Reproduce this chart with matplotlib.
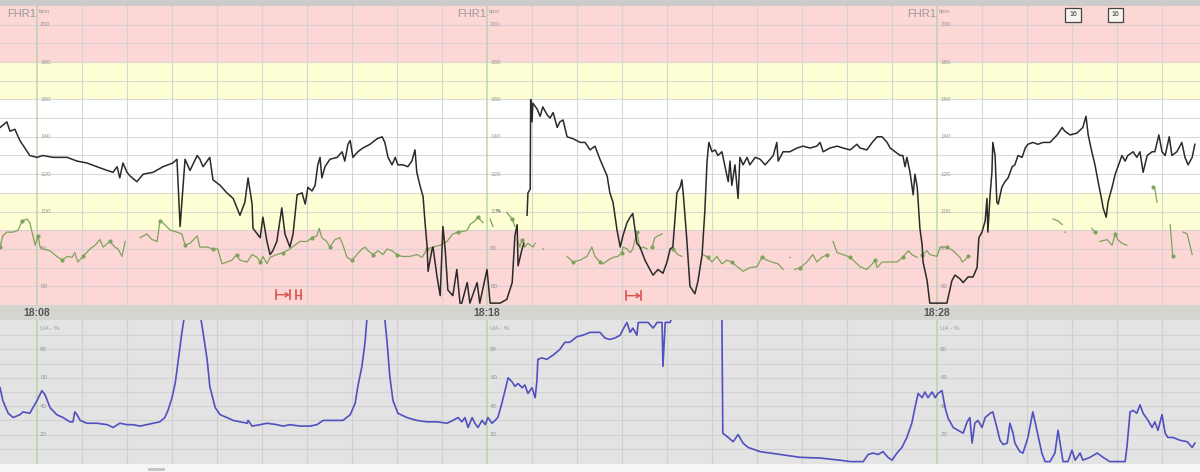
import numpy as np
import matplotlib
matplotlib.use("Agg")
import matplotlib.pyplot as plt
from matplotlib.patches import Rectangle

plt.rcParams['font.family'] = ['Liberation Sans', 'DejaVu Sans']

# ---------------- data (time in minutes after 18:00) ----------------
NA = float('nan')
time_labels = ["18:08", "18:18", "18:28"]
major_minutes = [8, 18, 28]
fhr_ticks = [200, 180, 160, 140, 120, 100, 80, 60]
ua_ticks = [80, 60, 40, 20]
event_boxes = [31.02, 31.96]
event_label = "16"

fhr_trace = [
    (7.18, 145), (7.33, 148), (7.40, 143), (7.51, 144), (7.62, 138), (7.73, 134), (7.84, 130),
    (8.00, 129), (8.13, 130), (8.36, 129), (8.67, 129), (8.89, 127), (9.11, 126), (9.33, 124),
    (9.56, 122), (9.69, 121), (9.78, 124), (9.84, 118), (9.91, 126), (10.00, 121), (10.07, 119),
    (10.22, 116), (10.36, 120), (10.58, 121), (10.80, 124), (11.02, 126), (11.11, 128), (11.18, 92),
    (11.29, 128), (11.40, 122), (11.56, 130), (11.62, 128), (11.69, 124), (11.84, 129), (11.91, 117),
    (12.07, 114), (12.22, 110), (12.36, 107), (12.51, 98), (12.62, 105), (12.69, 118), (12.78, 104),
    (12.80, 91), (12.96, 86), (13.02, 97), (13.11, 84), (13.18, 77), (13.24, 79), (13.33, 84),
    (13.44, 102), (13.51, 88), (13.62, 81), (13.69, 88), (13.78, 109), (13.89, 110), (13.96, 104),
    (14.02, 113), (14.11, 111), (14.18, 114), (14.24, 125), (14.29, 129), (14.33, 118), (14.40, 124),
    (14.51, 128), (14.67, 129), (14.78, 132), (14.84, 127), (14.91, 136), (14.96, 138), (15.02, 129),
    (15.13, 132), (15.24, 134), (15.40, 136), (15.56, 139), (15.67, 140), (15.73, 137), (15.80, 129),
    (15.89, 125), (15.96, 129), (16.02, 125), (16.13, 125), (16.24, 124), (16.33, 127), (16.40, 133),
    (16.44, 121), (16.51, 114), (16.58, 108), (16.62, 95), (16.67, 81), (16.69, 68), (16.78, 80),
    (16.80, 81), (16.89, 65), (16.96, 55), (17.02, 92), (17.07, 80), (17.13, 58), (17.24, 55),
    (17.33, 69), (17.40, 51), (17.44, 51), (17.56, 62), (17.62, 51), (17.78, 62), (17.84, 51),
    (18.00, 69), (18.07, 51), (18.29, 51), (18.44, 53), (18.56, 62), (18.62, 87), (18.67, 93),
    (18.69, 71), (18.78, 80), (18.82, 83), (18.85, NA),
    (18.89, 98), (18.91, 110), (18.96, 112), (18.97, 160), (19.00, 148), (19.02, 158), (19.11, 155),
    (19.18, 151), (19.24, 156), (19.33, 152), (19.40, 150), (19.47, 153), (19.56, 145), (19.62, 148),
    (19.69, 149), (19.78, 140), (19.91, 139), (20.07, 137), (20.18, 137), (20.29, 133), (20.40, 135),
    (20.51, 128), (20.67, 119), (20.73, 110), (20.80, 105), (20.89, 90), (20.96, 81), (21.02, 87),
    (21.11, 94), (21.18, 97), (21.24, 99), (21.29, 90), (21.33, 83), (21.40, 81), (21.51, 74),
    (21.62, 69), (21.69, 66), (21.80, 69), (21.91, 67), (22.00, 73), (22.07, 80), (22.13, 81),
    (22.22, 110), (22.29, 113), (22.33, 117), (22.36, 110), (22.44, 85), (22.51, 60), (22.62, 56),
    (22.69, 63), (22.78, 77), (22.84, 100), (22.89, 127), (22.93, 137), (23.00, 132), (23.07, 133),
    (23.13, 130), (23.22, 132), (23.29, 124), (23.36, 116), (23.40, 127), (23.44, 114), (23.51, 125),
    (23.58, 107), (23.62, 129), (23.69, 125), (23.78, 129), (23.84, 125), (23.96, 129), (24.07, 128),
    (24.18, 125), (24.29, 128), (24.36, 130), (24.44, 137), (24.47, 127), (24.58, 132), (24.73, 132),
    (24.89, 134), (25.02, 135), (25.18, 134), (25.33, 135), (25.40, 137), (25.47, 132), (25.62, 134),
    (25.78, 135), (25.91, 134), (26.07, 133), (26.22, 136), (26.29, 134), (26.44, 133), (26.56, 137),
    (26.67, 140), (26.78, 140), (26.89, 137), (26.96, 134), (27.07, 132), (27.18, 130), (27.24, 130),
    (27.29, 124), (27.33, 129), (27.40, 121), (27.44, 114), (27.47, 109), (27.51, 120), (27.56, 113),
    (27.62, 91), (27.67, 82), (27.69, 73), (27.78, 63), (27.84, 51), (28.07, 51), (28.22, 51),
    (28.33, 63), (28.40, 66), (28.51, 64), (28.58, 62), (28.69, 65), (28.80, 65), (28.89, 70),
    (28.93, 86), (29.00, 89), (29.07, 95), (29.11, 107), (29.13, 89), (29.18, 109), (29.22, 121),
    (29.24, 137), (29.29, 130), (29.33, 105), (29.36, 104), (29.44, 113), (29.51, 116), (29.58, 118),
    (29.67, 124), (29.73, 125), (29.80, 130), (29.89, 129), (29.96, 134), (30.02, 136), (30.13, 137),
    (30.24, 136), (30.36, 137), (30.51, 137), (30.67, 141), (30.78, 145), (30.84, 143), (30.96, 141),
    (31.11, 142), (31.24, 145), (31.31, 151), (31.36, 141), (31.44, 132), (31.51, 125), (31.58, 116),
    (31.67, 105), (31.69, 102), (31.76, 97), (31.80, 105), (31.89, 113), (31.96, 120), (32.02, 124),
    (32.11, 130), (32.18, 127), (32.24, 130), (32.36, 132), (32.44, 129), (32.51, 132), (32.58, 121),
    (32.67, 130), (32.78, 132), (32.84, 132), (32.93, 141), (33.00, 132), (33.07, 130), (33.16, 140),
    (33.22, 130), (33.33, 132), (33.44, 137), (33.51, 129), (33.58, 125), (33.67, 129), (33.73, 136),
]

mhr_trace = [
    (7.18, 81), (7.24, 87), (7.33, 89), (7.47, 89), (7.58, 90), (7.67, 95), (7.78, 96), (7.84, 94),
    (7.91, 87), (7.96, 82), (8.02, 87), (8.07, 81), (8.13, 80), (8.29, 79), (8.44, 76), (8.56, 74),
    (8.67, 76), (8.78, 75.5), (8.84, 78), (8.91, 73), (9.02, 76), (9.18, 80), (9.29, 82), (9.40, 85),
    (9.47, 81), (9.62, 84), (9.73, 81), (9.80, 80), (9.89, 76), (9.96, 84), (10.1, NA),
    (10.29, 86), (10.44, 88), (10.56, 85), (10.67, 84), (10.73, 95), (10.80, 94), (10.96, 90),
    (11.11, 89), (11.22, 88), (11.29, 82), (11.40, 83), (11.56, 87), (11.62, 81), (11.78, 81),
    (11.91, 80), (12.02, 80), (12.11, 72), (12.22, 73), (12.33, 74), (12.44, 77), (12.51, 74),
    (12.67, 73), (12.78, 77), (12.89, 75.5), (12.96, 73), (13.02, 76), (13.11, 72), (13.18, 75.5),
    (13.33, 77), (13.47, 78), (13.62, 80), (13.73, 82), (13.84, 84), (14.00, 84), (14.11, 86),
    (14.22, 87), (14.27, 91), (14.33, 86), (14.44, 84), (14.51, 81), (14.62, 85), (14.73, 86),
    (14.80, 82), (14.89, 75.5), (15.00, 74), (15.11, 77), (15.22, 80), (15.29, 81), (15.36, 79),
    (15.47, 77), (15.58, 79), (15.69, 77), (15.78, 80), (15.89, 79), (16.00, 77), (16.11, 76),
    (16.29, 76), (16.44, 77), (16.56, 75.5), (16.67, 80), (16.80, 81), (16.96, 82), (17.11, 84),
    (17.24, 88), (17.36, 89), (17.40, 89), (17.56, 90), (17.62, 93), (17.73, 95), (17.80, 97),
    (17.91, 94), (17.98, NA), (18.07, 96), (18.13, 92), (18.17, NA), (18.22, 101), (18.29, 100),
    (18.36, NA), (18.44, 99.5), (18.56, 96), (18.62, 92), (18.64, NA), (18.67, 85), (18.73, 81),
    (18.78, 85), (18.84, 81), (18.91, 83), (19.02, 81), (19.07, 83), (19.12, NA), (19.24, 80),
    (19.25, 80), (19.30, NA),
    (19.78, 76), (19.91, 73), (20.07, 74), (20.22, 76), (20.33, 81), (20.40, 76), (20.51, 73),
    (20.58, 72), (20.69, 74), (20.80, 75.5), (20.91, 76), (21.00, 78), (21.02, 81), (21.11, 80),
    (21.18, 78), (21.24, 80), (21.33, 89), (21.40, 80), (21.47, 81), (21.56, 80), (21.60, NA),
    (21.67, 81), (21.73, 86), (21.80, 87), (21.89, 88), (22.0, NA), (22.13, 80), (22.24, 77),
    (22.33, 76), (22.5, NA),
    (22.80, 77), (22.91, 75.5), (23.00, 73), (23.11, 76), (23.22, 72), (23.33, 74), (23.44, 73),
    (23.56, 70.5), (23.69, 68), (23.84, 70), (24.00, 70.5), (24.11, 75.5), (24.22, 74), (24.33, 73),
    (24.47, 72), (24.58, 69), (24.65, NA), (24.73, 75.5), (24.74, 75.5), (24.78, NA), (24.84, 69),
    (24.96, 70), (25.11, 73), (25.24, 77), (25.33, 73), (25.44, 75.5), (25.56, 77), (25.62, NA),
    (25.69, 84), (25.78, 78), (25.91, 77), (26.07, 75.5), (26.18, 73), (26.29, 70.5), (26.44, 69),
    (26.56, 72), (26.62, 74), (26.67, 70), (26.78, 73), (26.91, 73), (27.11, 73), (27.24, 75.5),
    (27.36, 79), (27.44, 77), (27.56, 75.5), (27.61, NA),
    (27.67, 77), (27.78, 79), (27.84, 77), (28.00, 76), (28.07, 81), (28.22, 81), (28.36, 79),
    (28.51, 75.5), (28.56, 73), (28.62, 74), (28.69, 76), (28.8, NA),
    (30.58, 96), (30.69, 95), (30.78, 93), (30.81, NA), (30.84, 89), (30.85, 89), (30.9, NA),
    (31.44, 91), (31.51, 89), (31.56, NA), (31.62, 84), (31.78, 85), (31.89, 82), (31.96, 88),
    (32.02, 85), (32.11, 83), (32.22, 82), (32.4, NA), (32.80, 113), (32.84, 112), (32.89, 105),
    (33.0, NA), (33.18, 93), (33.24, 76), (33.35, NA), (33.47, 89), (33.56, 88), (33.67, 77),
]

ua_trace = [
    (7.18, 53), (7.24, 44), (7.36, 35), (7.47, 32), (7.62, 34), (7.69, 36), (7.84, 35), (8.00, 44),
    (8.11, 51), (8.18, 48), (8.29, 39), (8.44, 34), (8.58, 32), (8.73, 29), (8.80, 29), (8.84, 36),
    (8.89, 34), (8.96, 30), (9.11, 28), (9.33, 28), (9.56, 27), (9.69, 25), (9.84, 28), (10.00, 27),
    (10.13, 27), (10.29, 26), (10.44, 27), (10.58, 28), (10.73, 29), (10.84, 32), (10.91, 37),
    (11.00, 46), (11.07, 56), (11.13, 70), (11.22, 92), (11.27, 102), (11.40, 115), (11.56, 115),
    (11.64, 102), (11.69, 92), (11.78, 73), (11.84, 54), (11.96, 39), (12.07, 34), (12.22, 32),
    (12.36, 30), (12.51, 29), (12.67, 28), (12.69, 30), (12.78, 26), (12.96, 27), (13.11, 28),
    (13.33, 27), (13.47, 26), (13.62, 27), (13.84, 26), (14.07, 26), (14.22, 27), (14.36, 30),
    (14.58, 30), (14.80, 30), (14.96, 34), (15.07, 42), (15.13, 54), (15.22, 68), (15.29, 85),
    (15.33, 101), (15.44, 115), (15.62, 115), (15.73, 101), (15.78, 85), (15.84, 61), (15.91, 44),
    (16.02, 35), (16.22, 32), (16.44, 30), (16.67, 29), (16.89, 29), (17.11, 28), (17.24, 30),
    (17.36, 32), (17.44, 29), (17.51, 32), (17.58, 25), (17.67, 32), (17.73, 28), (17.80, 25),
    (17.89, 30), (17.96, 27), (18.02, 32), (18.11, 28), (18.18, 30), (18.24, 32), (18.33, 42),
    (18.40, 51), (18.47, 60), (18.56, 57), (18.62, 54), (18.69, 56), (18.78, 53), (18.84, 55),
    (18.91, 49), (19.00, 53), (19.07, 46), (19.11, 58), (19.13, 73), (19.22, 74), (19.33, 73),
    (19.47, 76), (19.62, 80), (19.73, 85), (19.84, 85), (20.00, 89), (20.13, 90), (20.29, 92),
    (20.40, 92), (20.51, 92), (20.62, 88), (20.73, 87), (20.84, 88), (20.96, 90), (21.02, 94),
    (21.11, 99), (21.18, 92), (21.24, 95), (21.33, 90), (21.36, 99), (21.47, 99), (21.58, 99),
    (21.69, 95), (21.78, 99), (21.89, 99), (21.91, 68), (21.96, 99), (22.07, 99), (22.16, 108),
    (23.18, 108), (23.22, 101), (23.24, 21), (23.36, 18), (23.47, 15), (23.58, 20), (23.69, 14),
    (23.80, 11), (24.07, 8), (24.51, 6), (24.96, 4), (25.40, 3.5), (25.84, 2), (26.07, 1),
    (26.22, 1), (26.36, 1), (26.47, 6), (26.58, 7), (26.69, 6), (26.80, 8), (26.91, 4), (27.00, 2),
    (27.11, 7), (27.22, 11), (27.33, 18), (27.44, 28), (27.51, 39), (27.58, 49), (27.67, 46),
    (27.73, 50), (27.80, 46), (27.89, 50), (27.96, 46), (28.02, 49), (28.11, 51), (28.18, 39),
    (28.24, 32), (28.36, 25), (28.47, 23), (28.58, 21), (28.67, 29), (28.73, 32), (28.78, 14),
    (28.84, 28), (28.91, 30), (29.00, 25), (29.07, 32), (29.18, 35), (29.24, 36), (29.33, 25),
    (29.40, 16), (29.47, 13), (29.56, 14), (29.62, 28), (29.69, 21), (29.73, 14), (29.84, 8),
    (29.91, 7), (30.02, 18), (30.13, 36), (30.22, 23), (30.33, 7), (30.40, 1), (30.51, 1),
    (30.62, 7), (30.69, 23), (30.76, 9), (30.80, 1), (30.91, 1), (31.00, 9), (31.07, 2), (31.18, 7),
    (31.24, 2), (31.40, 4), (31.56, 7), (31.69, 4), (31.84, 1), (32.00, 1), (32.18, 1), (32.22, 11),
    (32.29, 36), (32.36, 37), (32.44, 35), (32.51, 41), (32.58, 35), (32.69, 30), (32.78, 25),
    (32.84, 29), (32.91, 23), (33.00, 34), (33.07, 21), (33.13, 18), (33.24, 18), (33.40, 16),
    (33.56, 15), (33.67, 11), (33.73, 14),
]

# markers: (start minute, end minute, bpm level)
arrow_marks = [(13.31, 13.62, 55.5), (21.09, 21.42, 55.0)]
bar_marks = [(13.76, 13.87, 55.5)]

# ---------------- figure ----------------
W, H = 1200, 472
fig = plt.figure(figsize=(12, 4.72), dpi=100)
fig.patch.set_facecolor('white')


def fy(px):
    return 1 - px / H


XMIN, XMAX = 7.178, 33.844
ax1 = fig.add_axes([0, fy(305), 1, (305 - 6) / H])
axs = fig.add_axes([0, fy(320), 1, 15 / H])
ax2 = fig.add_axes([0, fy(464), 1, (464 - 320) / H])

for a in (ax1, axs, ax2):
    a.set_xlim(XMIN, XMAX)
    a.set_xticks([])
    a.set_yticks([])
    for s in a.spines.values():
        s.set_visible(False)

PINK = '#fdd6d6'
YEL = '#fefed4'
ax1.set_ylim(50, 210)
ax1.axhspan(180, 210, color=PINK, lw=0, zorder=0)
ax1.axhspan(160, 180, color=YEL, lw=0, zorder=0)
ax1.axhspan(110, 160, color='white', lw=0, zorder=0)
ax1.axhspan(90, 110, color=YEL, lw=0, zorder=0)
ax1.axhspan(50, 90, color=PINK, lw=0, zorder=0)

GRID = '#d2d2d2'
for v in range(60, 210, 10):
    ax1.axhline(v, color=GRID, lw=0.8, alpha=0.8, zorder=1)
for m in range(8, 34):
    c, lw = ('#b5d3aa', 1.1) if m in major_minutes else (GRID, 0.8)
    ax1.axvline(m, color=c, lw=lw, alpha=0.9, zorder=1)

# strip with time labels
axs.set_ylim(0, 1)
axs.set_facecolor('#d5d4cf')
for m, lab in zip(major_minutes, time_labels):
    axs.text(m, 0.45, lab, ha='center', va='center', fontsize=7.5, color='#555555',
             fontweight='bold')

# UA panel
ax2.set_ylim(-0.7, 100.7)
ax2.set_facecolor('#e3e3e3')
for v in range(10, 100, 10):
    ax2.axhline(v, color='#d2d2d2', lw=0.8, zorder=1)
for m in range(8, 34):
    c, lw = ('#b5d3aa', 1.1) if m in major_minutes else ('#d0d0d0', 0.8)
    ax2.axvline(m, color=c, lw=lw, zorder=1)

# traces
ft = np.array([p[0] for p in fhr_trace])
fv = np.array([p[1] for p in fhr_trace], dtype=float)
mt = np.array([p[0] for p in mhr_trace])
mv = np.array([p[1] for p in mhr_trace], dtype=float)
ut = np.array([p[0] for p in ua_trace])
uv = np.array([p[1] for p in ua_trace], dtype=float)

ax1.plot(mt, mv, color='#7da45a', lw=0.9, marker='o', markersize=2.0, markevery=5,
         zorder=3, clip_on=True)
ax1.plot(ft, fv, color='#2a2a2a', lw=1.1, zorder=4, clip_on=True)
ax2.plot(ut, uv, color='#5050c0', lw=1.2, zorder=4, clip_on=True)

# labels
TXT = '#9a9a9a'
for m in major_minutes:
    ax1.text(m - 0.03, 205.8, 'FHR1', ha='right', va='center', fontsize=8, color=TXT)
    ax1.text(m + 0.04, 207.0, 'bpm', ha='left', va='center', fontsize=4.2, color=TXT)
    for v in fhr_ticks:
        ax1.text(m + 0.07, v, str(v), ha='left', va='center', fontsize=4.5, color=TXT)
    ax2.text(m + 0.07, 94.5, 'UA - %', ha='left', va='center', fontsize=4.5, color=TXT)
    for v in ua_ticks:
        ax2.text(m + 0.07, v, str(v), ha='left', va='center', fontsize=4.5, color=TXT)

for t in event_boxes:
    ax1.text(t, 205.2, event_label, ha='center', va='center', fontsize=5, color='#333333',
             bbox=dict(boxstyle='square,pad=0.55', fc='#f6f6ee', ec='#444444', lw=0.9),
             zorder=6)

RED = '#d9534f'
for t1, t2, v in arrow_marks:
    ax1.plot([t1, t1], [v - 2.5, v + 2.5], color=RED, lw=1.2, zorder=6)
    ax1.plot([t2, t2], [v - 2.5, v + 2.5], color=RED, lw=1.2, zorder=6)
    ax1.annotate('', xy=(t2, v), xytext=(t1, v),
                 arrowprops=dict(arrowstyle='->,head_length=0.25,head_width=0.15',
                                 color=RED, lw=1.0, shrinkA=0, shrinkB=0), zorder=6)
for t1, t2, v in bar_marks:
    ax1.plot([t1, t1], [v - 2.5, v + 2.5], color=RED, lw=1.2, zorder=6)
    ax1.plot([t2, t2], [v - 2.5, v + 2.5], color=RED, lw=1.2, zorder=6)
    ax1.plot([t1, t2], [v, v], color=RED, lw=1.0, zorder=6)

# frame pieces
fig.add_artist(Rectangle((0, fy(6)), 1, 6 / H, transform=fig.transFigure,
                         color='#cbcbcb', lw=0))
fig.add_artist(Rectangle((0, 0), 1, 8 / H, transform=fig.transFigure,
                         color='#f6f6f6', lw=0))
fig.add_artist(Rectangle((148 / W, 1.5 / H), 17 / W, 3 / H, transform=fig.transFigure,
                         color='#c8c8c8', lw=0))

fig.savefig('out.png', dpi=100)
